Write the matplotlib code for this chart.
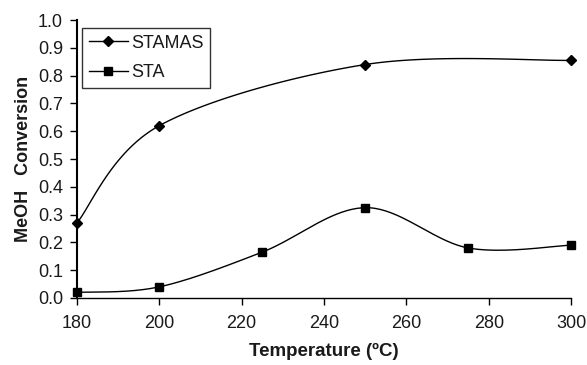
import numpy as np
import matplotlib
matplotlib.use("Agg")
import matplotlib.pyplot as plt

plt.rcParams['font.family'] = ['Liberation Sans', 'DejaVu Sans']

stamas_T = [180, 200, 250, 300]
stamas_conv = [0.27, 0.62, 0.84, 0.855]
sta_T = [180, 200, 225, 250, 275, 300]
sta_conv = [0.02, 0.04, 0.165, 0.325, 0.18, 0.19]
x_ticks = [180, 200, 220, 240, 260, 280, 300]
y_ticks = [0.0, 0.1, 0.2, 0.3, 0.4, 0.5, 0.6, 0.7, 0.8, 0.9, 1.0]

XMIN, XMAX, YMIN, YMAX = 180, 300, 0.0, 1.0
W, H = 494.0, 278.0  # approx axes pixel size, used for screen-space smoothing


def smooth(xs, ys, n=40):
    px = (np.asarray(xs, float) - XMIN) / (XMAX - XMIN) * W
    py = (np.asarray(ys, float) - YMIN) / (YMAX - YMIN) * H
    P = np.column_stack([px, py])
    out = []
    m = len(P)
    for i in range(m - 1):
        p0 = P[i - 1] if i > 0 else P[i]
        p1 = P[i]
        p2 = P[i + 1]
        p3 = P[i + 2] if i + 2 < m else P[i + 1]
        c1 = p1 + (p2 - p0) / 6.0
        c2 = p2 - (p3 - p1) / 6.0
        t = np.linspace(0, 1, n)[:, None]
        seg = ((1 - t) ** 3) * p1 + 3 * ((1 - t) ** 2) * t * c1 + 3 * (1 - t) * t ** 2 * c2 + t ** 3 * p2
        out.append(seg if i == 0 else seg[1:])
    S = np.vstack(out)
    sx = S[:, 0] / W * (XMAX - XMIN) + XMIN
    sy = S[:, 1] / H * (YMAX - YMIN) + YMIN
    return sx, sy


fig = plt.figure(figsize=(5.87, 3.65), dpi=100)
ax = fig.add_axes([0.131, 0.1836, 0.842, 0.7614])

for T, c, mk, ms, lab in [(stamas_T, stamas_conv, 'D', 5.5, 'STAMAS'),
                          (sta_T, sta_conv, 's', 6.0, 'STA')]:
    sx, sy = smooth(T, c)
    ax.plot(sx, sy, color='black', lw=1.0, zorder=2)
    ax.plot(T, c, linestyle='none', marker=mk, ms=ms, color='black', zorder=3, clip_on=False)
    ax.plot([], [], color='black', lw=1.0, marker=mk, ms=ms, label=lab)

ax.set_xlim(XMIN, XMAX)
ax.set_ylim(YMIN, YMAX)
ax.set_xticks(x_ticks)
ax.set_yticks(y_ticks)
ax.set_yticklabels([f"{v:.1f}" for v in y_ticks])
ax.tick_params(axis='both', direction='out', length=5, width=1, labelsize=13,
               color='black', labelcolor='#1a1a1a')
ax.tick_params(axis='x', pad=7)
ax.tick_params(axis='y', pad=5)
for s in ['top', 'right']:
    ax.spines[s].set_visible(False)
ax.spines['left'].set_linewidth(1.5)
ax.spines['bottom'].set_linewidth(1.0)

ax.set_xlabel('Temperature (ºC)', fontsize=13.5, fontweight='bold', labelpad=8, color='#1a1a1a')
ax.set_ylabel('MeOH   Conversion', fontsize=13, fontweight='bold', labelpad=4, color='#1a1a1a')

leg = ax.legend(loc='upper left', bbox_to_anchor=(0.0, 0.99), frameon=True, fancybox=False,
                edgecolor='black', fontsize=13, handlelength=2.2, borderpad=0.35,
                labelspacing=0.7, handletextpad=0.15, borderaxespad=0.3)
leg.get_frame().set_linewidth(1.0)
for t in leg.get_texts():
    t.set_color('#1a1a1a')

fig.savefig('out.png', dpi=100)
